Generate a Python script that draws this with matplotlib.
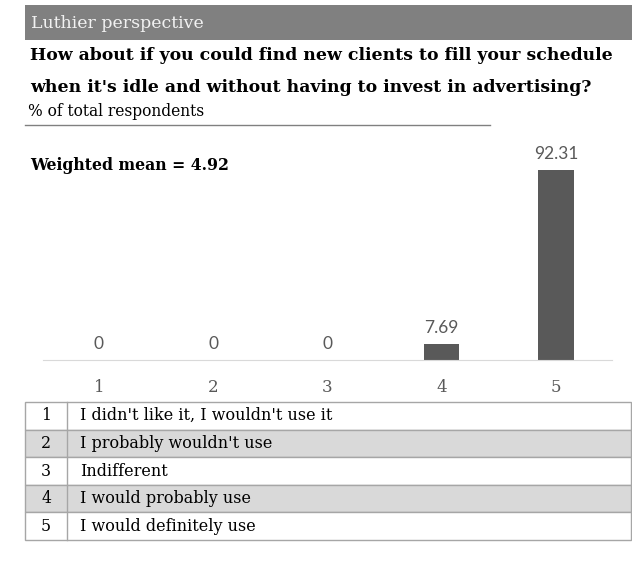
import matplotlib.pyplot as plt
from matplotlib.patches import Rectangle

# ----------- DATA ------------
categories = ["1", "2", "3", "4", "5"]
percent = [0, 0, 0, 7.69, 92.31]
value_labels = ["0", "0", "0", "7.69", "92.31"]
answers = [
    "I didn't like it, I wouldn't use it",
    "I probably wouldn't use",
    "Indifferent",
    "I would probably use",
    "I would definitely use",
]
header = "Luthier perspective"
question = ["How about if you could find new clients to fill your schedule",
            "when it's idle and without having to invest in advertising?"]
subtitle = "% of total respondents"
mean_text = "Weighted mean = 4.92"

# ----------- STYLE ------------
SERIF = "DejaVu Serif"
SANS = "Lato"
W, H = 632, 563
GREY_TXT = "#595959"

fig = plt.figure(figsize=(W / 100, H / 100), dpi=100)
fig.patch.set_facecolor("white")

# overlay axes in pixel units for header, titles and the legend table
ov = fig.add_axes([0, 0, 1, 1])
ov.set_xlim(0, W)
ov.set_ylim(H, 0)
ov.axis("off")

ov.add_patch(Rectangle((25, 5), W - 25, 35, color="#808080", lw=0))
ov.text(31, 23, header, color="#f2f2f2", fontsize=12.5, family=SERIF, va="center")
ov.text(30, 56, question[0], fontsize=12.4, family=SERIF, fontweight="bold", va="center")
ov.text(30, 87, question[1], fontsize=12.4, family=SERIF, fontweight="bold", va="center")
ov.text(28, 112, subtitle, fontsize=11.2, family=SERIF, va="center")
ov.plot([25, 490], [124.5, 124.5], color="#808080", lw=1)
ov.text(30, 165, mean_text, fontsize=11.3, family=SERIF, fontweight="bold", va="center")

# legend table
top, row_h = 402, 27.6
for i, (num, txt) in enumerate(zip(categories, answers)):
    y0 = top + i * row_h
    fc = "#d9d9d9" if i % 2 == 1 else "white"
    ov.add_patch(Rectangle((25, y0), W - 26, row_h, facecolor=fc,
                           edgecolor="#a6a6a6", lw=1))
    ov.text(46, y0 + row_h / 2, num, fontsize=11.3, family=SERIF, ha="center", va="center")
    ov.text(80, y0 + row_h / 2, txt, fontsize=11.5, family=SERIF, va="center")
ov.plot([67, 67], [top, top + 5 * row_h], color="#a6a6a6", lw=1)

# ----------- BAR CHART ------------
ax = fig.add_axes([43 / W, (H - 360) / H, 569 / W, 205.8 / H])
x = list(range(1, len(categories) + 1))
bars = ax.bar(x, percent, width=0.31, color="#595959")
for xi, v, lab in zip(x, percent, value_labels):
    ax.text(xi, v + 4, lab, ha="center", va="bottom", fontsize=12.5,
            family=SANS, color=GREY_TXT)
ax.set_xlim(0.51, 5.49)
ax.set_ylim(0, 100)
ax.set_xticks(x)
ax.set_xticklabels(categories, family=SERIF, fontsize=12, color=GREY_TXT)
ax.tick_params(axis="x", length=0, pad=14)
ax.set_yticks([])
for s in ["top", "left", "right"]:
    ax.spines[s].set_visible(False)
ax.spines["bottom"].set_color("#d9d9d9")
ax.patch.set_alpha(0)

fig.savefig("out.png", dpi=100)
